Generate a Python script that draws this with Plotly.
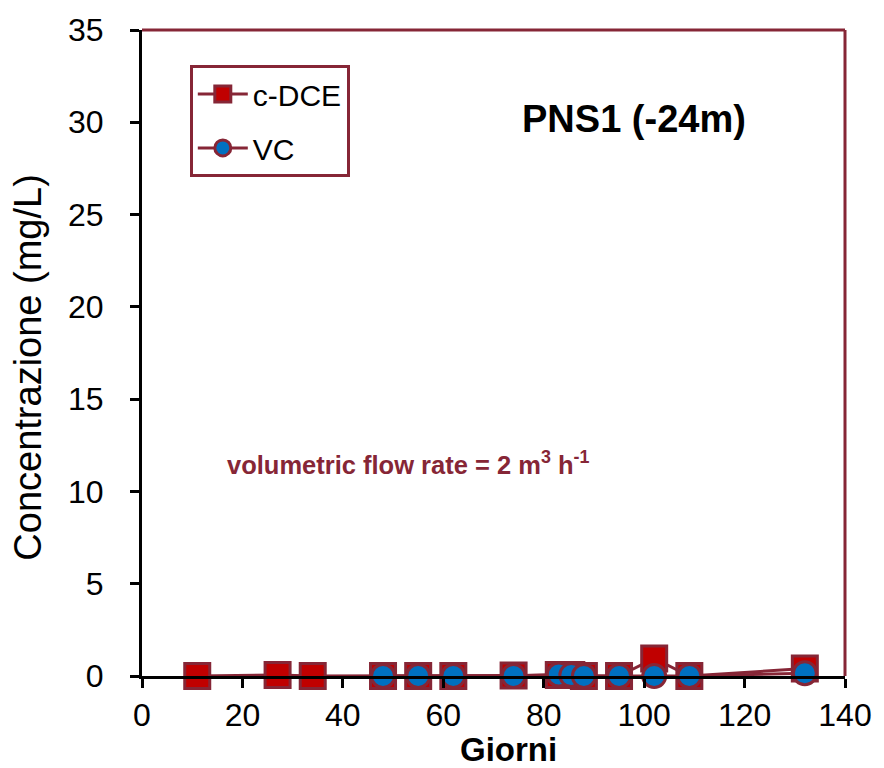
import plotly.graph_objects as go

# Sampling days and concentrations (mg/L) at PNS1 (-24 m)
days_dce = [11, 27, 34, 48, 55, 62, 74, 83, 85.5, 88, 95, 102, 109, 132]
conc_dce = [0.0, 0.05, 0.0, 0.0, 0.0, 0.0, 0.03, 0.05, 0.05, 0.0, 0.0, 0.95, 0.0, 0.4]

days_vc = [48, 55, 62, 74, 83, 85.5, 88, 95, 102, 109, 132]
conc_vc = [0.0, 0.0, 0.0, 0.0, 0.08, 0.05, 0.0, 0.0, 0.0, 0.0, 0.15]

x_ticks = [0, 20, 40, 60, 80, 100, 120, 140]
y_ticks = [0, 5, 10, 15, 20, 25, 30, 35]

DARK_RED = "#862636"
RED = "#C00000"
BLUE = "#0070C0"
FONT = "Liberation Sans, Arial, sans-serif"

fig = go.Figure()

fig.add_trace(go.Scatter(
    x=days_dce, y=conc_dce, name="c-DCE", mode="lines+markers",
    legendgroup="dce",
    line=dict(color=DARK_RED, width=3),
    marker=dict(symbol="square", size=25, color=RED,
                line=dict(color=DARK_RED, width=3)),
    cliponaxis=False,
))
fig.add_trace(go.Scatter(
    x=days_vc, y=conc_vc, name="VC", mode="lines+markers",
    legendgroup="vc",
    line=dict(color=DARK_RED, width=3),
    marker=dict(symbol="circle", size=23, color=BLUE,
                line=dict(color=DARK_RED, width=3)),
    cliponaxis=False,
))

# Top and right frame edges
fig.add_shape(type="line", xref="paper", yref="paper", x0=0, x1=1, y0=1, y1=1,
              line=dict(color=DARK_RED, width=3))
fig.add_shape(type="line", xref="paper", yref="paper", x0=1, x1=1, y0=0, y1=1,
              line=dict(color=DARK_RED, width=3))

fig.add_annotation(text="<b>PNS1 (-24m)</b>", xref="paper", yref="paper",
                   x=0.70, y=0.862, xanchor="center", yanchor="middle",
                   showarrow=False,
                   font=dict(family=FONT, size=38, color="black"))
fig.add_annotation(text="<b>volumetric flow rate = 2 m<sup>3</sup> h<sup>-1</sup></b>",
                   xref="paper", yref="paper", x=0.118, y=0.33,
                   xanchor="left", yanchor="middle", showarrow=False,
                   font=dict(family=FONT, size=25.5, color=DARK_RED))

# Axis titles
fig.add_annotation(text="Concentrazione (mg/L)", xref="paper", yref="paper",
                   x=-0.1615, y=0.478, xanchor="center", yanchor="middle",
                   textangle=-90, showarrow=False,
                   font=dict(family=FONT, size=38, color="black"))
fig.add_annotation(text="<b>Giorni</b>", xref="paper", yref="paper",
                   x=0.522, y=-0.114, xanchor="center", yanchor="middle",
                   showarrow=False,
                   font=dict(family=FONT, size=33, color="black"))

fig.update_layout(
    width=884, height=768,
    margin=dict(l=142, r=28, t=27, b=92),
    paper_bgcolor="white", plot_bgcolor="white",
    font=dict(family=FONT, color="black"),
    showlegend=True,
    legend=dict(x=0.068, y=0.946, xanchor="left", yanchor="top",
                bordercolor=DARK_RED, borderwidth=3, bgcolor="white",
                font=dict(family=FONT, size=30), tracegroupgap=12,
                itemwidth=50),
    xaxis=dict(range=[0, 140], tickvals=x_ticks, showgrid=False, zeroline=False,
               showline=True, linecolor="black", linewidth=3,
               ticks="outside", ticklen=9, tickwidth=3, tickcolor="black",
               tickfont=dict(family=FONT, size=32)),
    yaxis=dict(range=[0, 35], tickvals=y_ticks, showgrid=False, zeroline=False,
               showline=True, linecolor="black", linewidth=3,
               ticks="outside", ticklen=9, tickwidth=3, tickcolor="black",
               tickfont=dict(family=FONT, size=32), ticklabelstandoff=20),
)

fig.write_html("out.html")
